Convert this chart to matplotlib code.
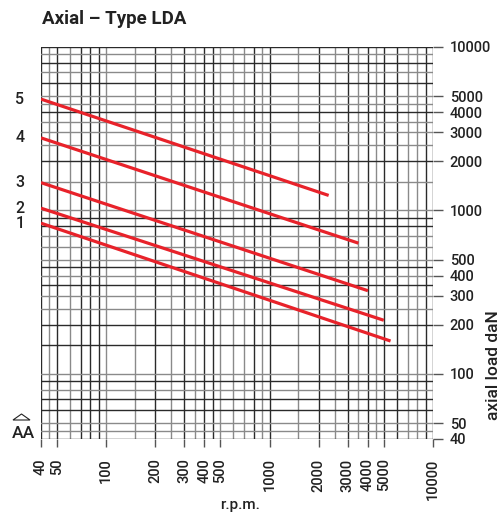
import matplotlib
matplotlib.use("Agg")
import matplotlib.pyplot as plt
from matplotlib.patches import Polygon

plt.rcParams['font.family'] = ['Roboto', 'DejaVu Sans']

# grid values (same set on both axes), dark = 1 / gray = 0
grid_vals = [40, 45, 50, 60, 70, 80, 90, 100, 150, 200, 250, 300, 350, 400, 450,
             500, 600, 700, 800, 900, 1000, 1500, 2000, 2500, 3000, 3500, 4000,
             4500, 5000, 6000, 7000, 8000, 9000, 10000]
x_dark = [1, 0, 1, 0, 1, 1, 1, 0, 0, 1, 0, 1, 0, 1, 1,
          0, 0, 0, 1, 0, 1, 0, 1, 0, 1, 0, 1,
          0, 1, 1, 0, 0, 1, 1]
y_dark = [1, 0, 0, 1, 1, 0, 1, 0, 1, 1, 0, 0, 1, 0, 1,
          0, 0, 0, 1, 1, 0, 0, 1, 0, 0, 0, 1,
          0, 0, 1, 0, 1, 0, 1]

x_ticks = [40, 50, 100, 200, 300, 400, 500, 1000, 2000, 3000, 4000, 5000, 10000]
y_ticks = [40, 50, 100, 200, 300, 400, 500, 1000, 2000, 3000, 4000, 5000, 10000]

# bearing sizes 1..5 : (rpm start, rpm end), (load start, load end)
sizes = ['1', '2', '3', '4', '5']
rpm_start = [40, 40, 40, 40, 40]
rpm_end = [5500, 5000, 4000, 3500, 2300]
load_start = [836, 1033, 1480, 2780, 4800]
load_end = [159, 213, 323, 631, 1236]

txt = '#222222'

fig = plt.figure(figsize=(5.02, 5.17), dpi=100)
ax = fig.add_axes([41/502, 1-439/517, 392/502, 392/517])
ax.set_xscale('log')
ax.set_yscale('log')
ax.set_xlim(40, 10000)
ax.set_ylim(40, 10000)

for v, d in zip(grid_vals, x_dark):
    ax.axvline(v, color='#2a2a2a' if d else '#8a8a8a', lw=1.0, zorder=1)
for v, d in zip(grid_vals, y_dark):
    ax.axhline(v, color='#2a2a2a' if d else '#8a8a8a', lw=1.0, zorder=1)

for s, x0, x1, y0, y1 in zip(sizes, rpm_start, rpm_end, load_start, load_end):
    ax.plot([x0, x1], [y0, y1], color='#e8222a', lw=2.3, solid_capstyle='butt', zorder=3)
    ax.annotate(s, xy=(0, y0), xycoords=('axes fraction', 'data'),
                xytext=(-21, 0), textcoords='offset pixels',
                ha='center', va='center', fontsize=11.5, fontweight='medium', color=txt)

for sp in ax.spines.values():
    sp.set_visible(False)

ax.minorticks_off()
ax.set_xticks(x_ticks)
ax.set_xticklabels([str(v) for v in x_ticks], rotation=90, fontsize=10.5,
                   fontweight='medium', color=txt)
ax.yaxis.tick_right()
ax.set_yticks(y_ticks)
ax.set_yticklabels([str(v) for v in y_ticks], fontsize=10.5,
                   fontweight='medium', color=txt)
ax.tick_params(axis='x', length=6, width=1, color='#555555', pad=8)
ax.tick_params(axis='y', length=7, width=1, color='#555555', pad=5)

# axis titles
fig.text(240/502, 1-505/517, 'r.p.m.', fontsize=11, fontweight='medium',
         ha='center', va='center', color=txt)
fig.text(494/502, 1-365/517, 'axial load daN', fontsize=12.5, fontweight='medium',
         rotation=90, ha='center', va='center', color=txt)

fig.text(42/502, 1-19/517, 'Axial – Type LDA', fontsize=13.5, fontweight='bold',
         ha='left', va='center', color=txt)

# AA with triangle symbol
fig.text(23/502, 1-433/517, 'AA', fontsize=12.5, fontweight='medium',
         ha='center', va='center', color=txt)
tri = Polygon([(13/502, 1-420/517), (21.5/502, 1-414/517), (30/502, 1-420/517)],
              closed=True, fill=False, edgecolor=txt, lw=0.8,
              transform=fig.transFigure)
fig.add_artist(tri)

fig.savefig('out.png', dpi=100)
